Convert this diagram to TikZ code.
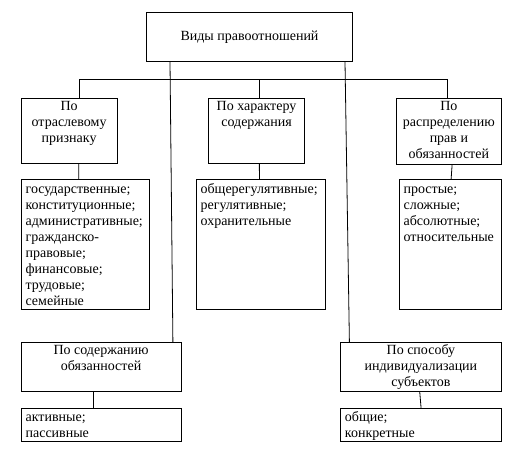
\documentclass[tikz,border=0pt]{standalone}
\usepackage{fontspec}
\setmainfont{Liberation Serif}
\tikzset{
  every node/.style={font=\fontsize{14}{16}\selectfont},
  box/.style={draw, line width=0.8pt, inner sep=0pt, anchor=north west},
  head/.style={anchor=north, align=center, inner sep=1pt},
  items/.style={anchor=north west, align=left, inner xsep=4.5pt, inner ysep=2.3pt},
}
\begin{document}
\begin{tikzpicture}[x=1pt, y=-1pt, line width=0.8pt]
  \useasboundingbox (0,0) rectangle (513,466);
  % Cadre principal
  \node[box, anchor=center, minimum width=205.6pt, minimum height=49pt] (vidy) at (249.5,36.8) {Виды правоотношений};
  % Premier niveau
  \node[box, minimum width=96pt, minimum height=65.6pt,
    label={[head]north:\strut По\\отраслевому\\признаку}] (otr) at (20.7,97.7) {};
  \node[box, minimum width=95.7pt, minimum height=65.6pt,
    label={[head]north:\strut По характеру\\содержания}] (har) at (208.3,97.7) {};
  \node[box, minimum width=105pt, minimum height=66.3pt,
    label={[head]north:\strut По\\распределению\\прав и\\обязанностей}] (raspr) at (396,97.7) {};
  % Listes
  \node[box, minimum width=128.3pt, minimum height=130pt,
    label={[items]north west:\strut государственные;\\конституционные;\\административные;\\гражданско-\\правовые;\\финансовые;\\трудовые;\\семейные}] (otrL) at (20.7,179.3) {};
  \node[box, minimum width=129.3pt, minimum height=130pt,
    label={[items]north west:\strut общерегулятивные;\\регулятивные;\\охранительные}] (harL) at (195.7,179.3) {};
  \node[box, minimum width=102pt, minimum height=130pt,
    label={[items]north west:\strut простые;\\сложные;\\абсолютные;\\относительные}] (rasprL) at (398.7,179.3) {};
  % Niveau du bas
  \node[box, minimum width=160pt, minimum height=48.4pt,
    label={[head]north:\strut По содержанию\\обязанностей}] (sod) at (20.7,342.3) {};
  \node[box, minimum width=160pt, minimum height=32.4pt,
    label={[items, inner ysep=1.5pt]north west:\strut активные;\\пассивные}] (sodL) at (20.7,408.3) {};
  \node[box, minimum width=161pt, minimum height=48.4pt,
    label={[head]north:\strut По способу\\индивидуализации\\субъектов}] (sub) at (340,342.3) {};
  \node[box, minimum width=161pt, minimum height=32.4pt,
    label={[items, inner ysep=1.5pt]north west:\strut общие;\\конкретные}] (subL) at (340,408.3) {};
  % Barre horizontale
  \coordinate (bar) at (0,79);
  \draw ([xshift=10.3pt]otr.north) |- ([xshift=-1.8pt]raspr.north |- bar)
      -- ([xshift=-1.8pt]raspr.north);
  \draw ([xshift=2.8pt]har.north) -- ([xshift=2.8pt]har.north |- bar);
  % Longues lignes
  \draw ([xshift=-79.5pt]vidy.south) -- ([xshift=71.8pt]sod.north);
  \draw ([xshift=95.5pt]vidy.south) -- ([xshift=-71.5pt]sub.north);
  % Vers les listes
  \draw ([xshift=9.6pt]otr.south) -- ([xshift=-6.5pt]otrL.north);
  \draw ([xshift=2.8pt]har.south) -- ([xshift=-1.3pt]harL.north);
  \draw ([xshift=3.2pt]raspr.south) -- ([xshift=1pt]rasprL.north);
  \draw ([xshift=-7.4pt]sod.south) -- ([xshift=-7.4pt]sodL.north);
  \draw ([xshift=-1.2pt]sub.south) -- ([xshift=0.2pt]subL.north);
\end{tikzpicture}
\end{document}
